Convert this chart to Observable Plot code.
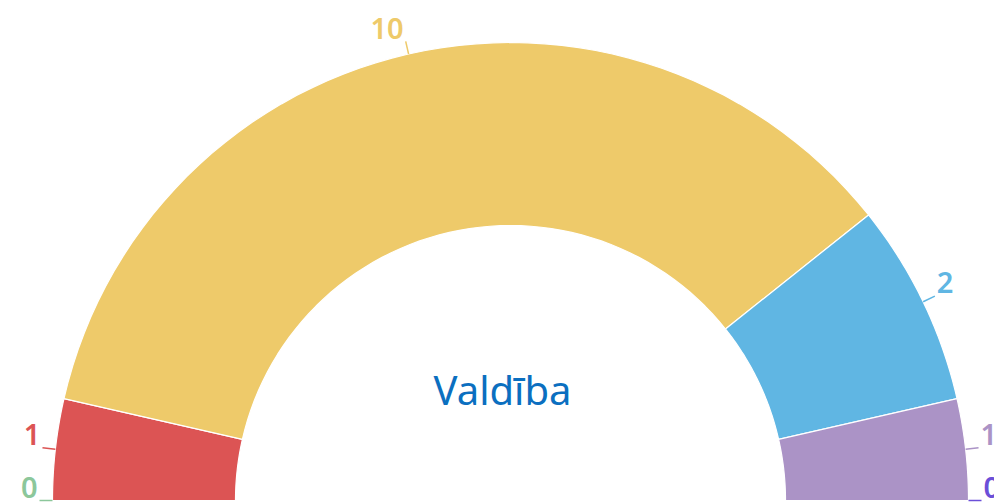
<!DOCTYPE html>
<html><head><meta charset="utf-8">
<script src="https://cdn.jsdelivr.net/npm/d3@7"></script>
<script src="https://cdn.jsdelivr.net/npm/@observablehq/plot@0.6"></script>
<style>body{margin:0;background:#fff;overflow:hidden}</style>
</head><body><div id="chart"></div>
<script>
// Data
const parties = ["P1", "P2", "P3", "P4", "P5", "P6"];
const seats = [0, 1, 10, 2, 1, 0];
const partyColors = ["#8cc79b", "#dc5454", "#eeca6a", "#60b6e3", "#ab93c6", "#6b4fd8"];
const centerLabel = "Valdība";

// Layout constants (chart units = pixels relative to arc center)
const R_OUT = 458, R_IN = 275, LEADER = 13;
const total = d3.sum(seats);
const ang = c => Math.PI - Math.PI * c / total;

const slices = [];
let cum = 0;
parties.forEach((p, i) => {
  const a0 = ang(cum), a1 = ang(cum + seats[i]);
  slices.push({party: p, value: seats[i], color: partyColors[i], a0, a1, mid: (a0 + a1) / 2});
  cum += seats[i];
});

const poly = [];
for (const s of slices) {
  if (s.value === 0) continue;
  const n = 60;
  for (let k = 0; k <= n; k++) {
    const a = s.a0 + (s.a1 - s.a0) * k / n;
    poly.push({party: s.party, color: s.color, x: R_OUT * Math.cos(a), y: R_OUT * Math.sin(a)});
  }
  for (let k = n; k >= 0; k--) {
    const a = s.a0 + (s.a1 - s.a0) * k / n;
    poly.push({party: s.party, color: s.color, x: R_IN * Math.cos(a), y: R_IN * Math.sin(a)});
  }
}

const labels = slices.map(s => ({
  ...s,
  x1: R_OUT * Math.cos(s.mid), y1: R_OUT * Math.sin(s.mid),
  x2: (R_OUT + LEADER) * Math.cos(s.mid), y2: (R_OUT + LEADER) * Math.sin(s.mid),
  left: Math.cos(s.mid) < -1e-9
}));

const chart = Plot.plot({
  width: 994, height: 502,
  margin: 0,
  x: {domain: [-510, 484], range: [0, 994], axis: null},
  y: {domain: [-2, 500], range: [502, 0], axis: null},
  color: {type: "identity"},
  style: {fontFamily: "'Noto Sans', sans-serif", background: "#fff"},
  marks: [
    Plot.line(poly, {x: "x", y: "y", z: "party", fill: "color", stroke: "white", strokeWidth: 1.2, curve: "linear-closed"}),
    Plot.link(labels, {x1: "x1", y1: "y1", x2: "x2", y2: "y2", stroke: "color", strokeWidth: 1.5}),
    Plot.text(labels.filter(d => d.left), {x: "x2", y: "y2", text: "value", fill: "color", textAnchor: "end", dx: -2, dy: -12, fontSize: 29, fontWeight: 600}),
    Plot.text(labels.filter(d => !d.left), {x: "x2", y: "y2", text: "value", fill: "color", textAnchor: "start", dx: 2, dy: -12, fontSize: 29, fontWeight: 600}),
    Plot.text([centerLabel], {x: () => -8, y: () => 108, text: d => d, fill: "#0b6fc0", fontSize: 40})
  ]
});
document.getElementById("chart").appendChild(chart);
</script>
</body></html>
